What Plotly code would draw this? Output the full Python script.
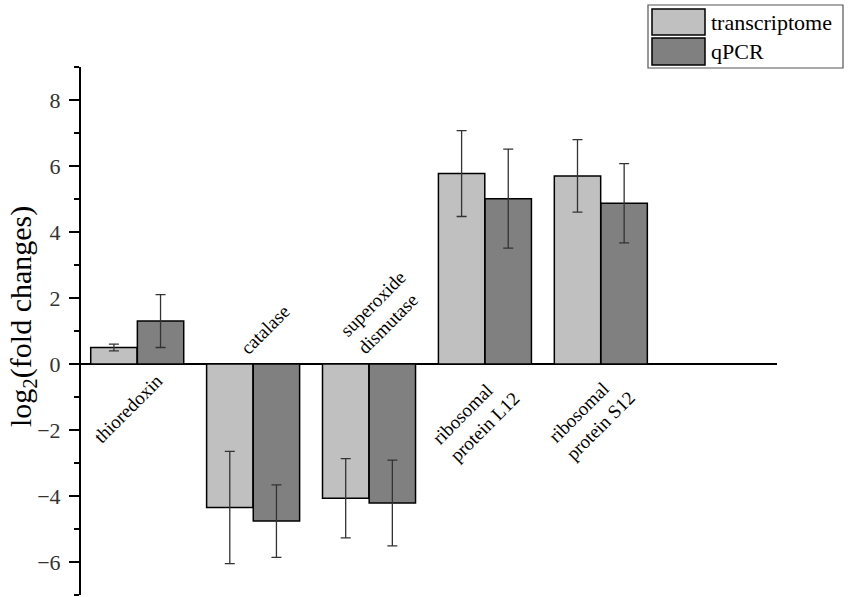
import plotly.graph_objects as go

categories = ["thioredoxin", "catalase", "superoxide<br>dismutase",
              "ribosomal<br>protein L12", "ribosomal<br>protein S12"]
series_names = ["transcriptome", "qPCR"]
transcriptome = [0.50, -4.35, -4.07, 5.77, 5.70]
transcriptome_err = [0.10, 1.70, 1.20, 1.30, 1.10]
qpcr = [1.30, -4.76, -4.21, 5.01, 4.87]
qpcr_err = [0.80, 1.10, 1.30, 1.50, 1.20]
y_ticks = [-6, -4, -2, 0, 2, 4, 6, 8]
y_title = "log<sub>2</sub>(fold changes)"

W, H = 851, 597
L, R, T, B = 81, 74, 67, 2
PW, PH = W - L - R, H - T - B

def px(x):
    return (x - L) / PW

def py(y):
    return (H - B - y) / PH

FONT = "Liberation Serif, Times New Roman, serif"
colors = ["#c0c0c0", "#808080"]
xs = list(range(len(categories)))

fig = go.Figure()
for name, vals, errs, col in [(series_names[0], transcriptome, transcriptome_err, colors[0]),
                              (series_names[1], qpcr, qpcr_err, colors[1])]:
    fig.add_trace(go.Bar(
        x=xs, y=vals, name=name,
        marker=dict(color=col, line=dict(color="black", width=1.5)),
        error_y=dict(type="data", array=errs, visible=True,
                     color="#333333", thickness=1.3, width=5),
        width=0.4,
    ))

fig.update_layout(
    barmode="group", bargap=0.195, bargroupgap=0,
    width=W, height=H,
    margin=dict(l=L, r=R, t=T, b=B, autoexpand=False),
    paper_bgcolor="white", plot_bgcolor="white",
    showlegend=False,
    font=dict(family=FONT, color="black"),
)
fig.update_xaxes(range=[-0.485, 5.52], showline=False, showticklabels=False,
                 ticks="", showgrid=False, zeroline=False)
fig.update_yaxes(range=[-7, 9], tickvals=y_ticks, ticks="outside", ticklen=10,
                 tickwidth=2, tickcolor="black", ticklabelstandoff=4,
                 minor=dict(dtick=1, tick0=0, ticks="outside", ticklen=5,
                            tickwidth=2, tickcolor="black"),
                 showline=True, linecolor="black", linewidth=2,
                 showgrid=False, zeroline=True, zerolinecolor="black",
                 zerolinewidth=2, automargin=False,
                 tickfont=dict(family=FONT, size=22, color="#333"))

# y-axis title
fig.add_annotation(xref="paper", yref="paper", x=px(23), y=py(317),
                   text=y_title, textangle=-90, showarrow=False,
                   xanchor="center", yanchor="middle",
                   font=dict(family=FONT, size=30, color="black"))

for i, c in enumerate(categories):
    v = transcriptome[i]
    pos = v >= 0
    fig.add_annotation(
        x=i, y=0, text=c, showarrow=False, textangle=-45, align="left",
        xanchor="center", yanchor="top" if pos else "bottom",
        yshift=-3 if pos else 3, xshift=-9 if pos else 12,
        font=dict(family=FONT, size=19, color="black"),
    )

# legend (drawn manually to match large swatches)
fig.add_shape(type="rect", xref="paper", yref="paper",
              x0=px(648), x1=px(843), y0=py(68), y1=py(5),
              line=dict(color="#555", width=1.2), fillcolor="white")
for k, (nm, col) in enumerate(zip(series_names, colors)):
    y0p, y1p = [(9, 35), (38, 65)][k]
    fig.add_shape(type="rect", xref="paper", yref="paper",
                  x0=px(652), x1=px(705), y0=py(y1p), y1=py(y0p),
                  line=dict(color="black", width=1.5), fillcolor=col)
    fig.add_annotation(xref="paper", yref="paper", x=px(709), y=py((y0p + y1p) / 2),
                       text=nm, showarrow=False, xanchor="left", yanchor="middle",
                       font=dict(family=FONT, size=22, color="black"))

fig.write_html("out.html", config={"displayModeBar": False},
               post_script="document.body.style.margin='0px';document.body.style.padding='0px';")
